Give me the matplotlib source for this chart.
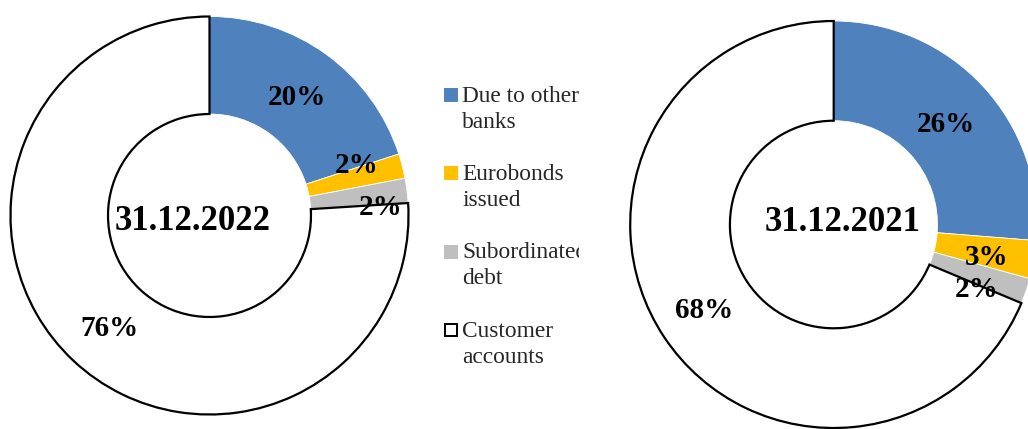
import matplotlib
matplotlib.use("Agg")
import matplotlib.pyplot as plt
from matplotlib.patches import Rectangle

# Funding structure of the bank, shares of total liabilities (%)
categories = ["Due to other banks", "Eurobonds issued", "Subordinated debt", "Customer accounts"]
legend_lines = [["Due to other", "banks"], ["Eurobonds", "issued"],
                ["Subordinated", "debt"], ["Customer", "accounts"]]
dates = ["31.12.2022", "31.12.2021"]
shares_2022 = [20, 2, 2, 76]
shares_2021 = [26, 3, 2, 68]
colors = ["#4F81BD", "#FFC000", "#BFBFBF", "#FFFFFF"]

W, H = 1028, 429
SERIF = "Liberation Serif"
fig = plt.figure(figsize=(W / 100, H / 100), dpi=100)

PAD = 1.03


def donut_axes(cx, cy, r):
    """Axes whose unit circle sits at pixel centre (cx, cy) with radius r."""
    half = r * PAD
    ax = fig.add_axes([(cx - half) / W, (H - cy - half) / H, 2 * half / W, 2 * half / H])
    return ax


def draw_donut(ax, values, label_pos, date, date_pos):
    wedges, _ = ax.pie(values, colors=colors, startangle=90, counterclock=False,
                       radius=1.0, normalize=True,
                       wedgeprops=dict(width=0.49, edgecolor="white", linewidth=0.6))
    ax.set_xlim(-PAD, PAD)
    ax.set_ylim(-PAD, PAD)
    ax.set_aspect("equal")
    ax.axis("off")
    for w in wedges:
        w.set_clip_on(False)
    wedges[-1].set_edgecolor("black")
    wedges[-1].set_linewidth(1.6)
    for v, (x, y) in zip(values, label_pos):
        ax.text(x, y, f"{v}%", ha="center", va="center", fontsize=21,
                fontweight="bold", family=SERIF, color="black")
    ax.text(date_pos[0], date_pos[1], date, ha="center", va="center", fontsize=25,
            fontweight="bold", family=SERIF, color="black")


ax_left = donut_axes(209.5, 215.5, 199)
draw_donut(ax_left, shares_2022,
           [(0.44, 0.593), (0.74, 0.25), (0.862, 0.04), (-0.50, -0.568)],
           dates[0], (-0.083, -0.03))

ax_right = donut_axes(833.7, 224.5, 203.5)
draw_donut(ax_right, shares_2021,
           [(0.552, 0.489), (0.753, -0.16), (0.70, -0.32), (-0.637, -0.425)],
           dates[1], (0.046, 0.012))

# Legend panel (text is cut at the panel's right edge)
x0, x1 = 440, 579
ax_leg = fig.add_axes([x0 / W, 0, (x1 - x0) / W, 1])
ax_leg.set_xlim(x0, x1)
ax_leg.set_ylim(H, 0)
ax_leg.axis("off")
for i, (lines, col) in enumerate(zip(legend_lines, colors)):
    base = 101.5 + i * 78.5
    edge = "black" if col == "#FFFFFF" else col
    ax_leg.add_patch(Rectangle((445.5, base - 13), 12, 12, facecolor=col,
                               edgecolor=edge, linewidth=1.4))
    for j, line in enumerate(lines):
        ax_leg.text(462, base + j * 26, line, ha="left", va="baseline", fontsize=16.8,
                    family=SERIF, color="#262626", clip_on=True)

fig.savefig("out.png", dpi=100)
